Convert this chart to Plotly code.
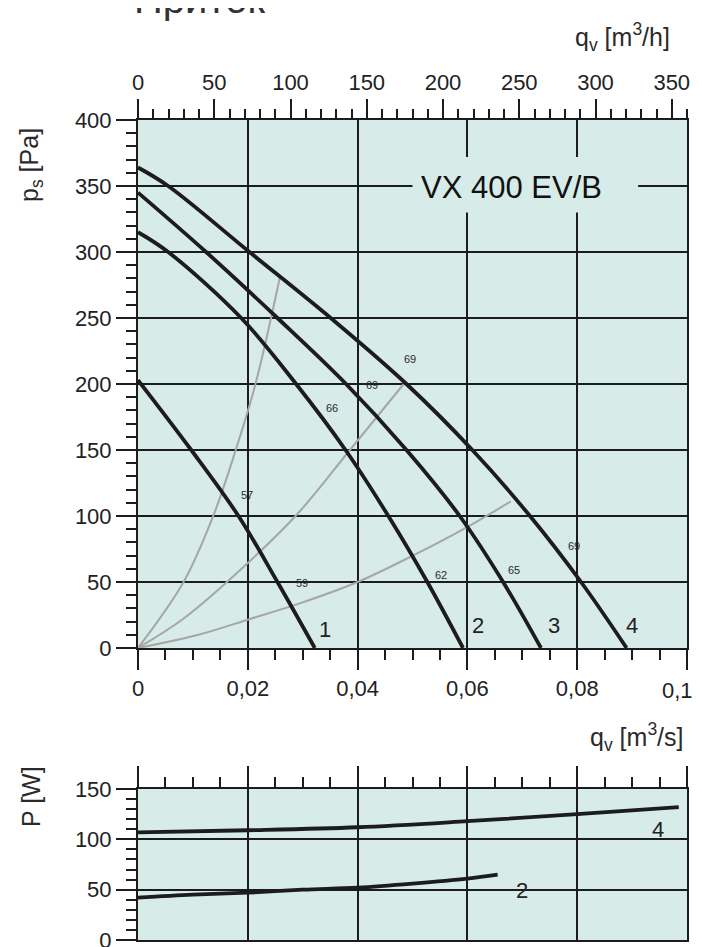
import plotly.graph_objects as go

# ---------------- data ----------------
# fan curves, static pressure p_s [Pa] vs airflow q_v [m3/s]
q1 = [0, 0.0097, 0.0183, 0.0254, 0.0322]
p1 = [203, 150, 100, 50, 0]
q2 = [0, 0.0055, 0.0188, 0.0288, 0.0378, 0.0456, 0.0527, 0.0592]
p2 = [315, 300, 250, 200, 150, 100, 50, 0]
q3 = [0, 0.0124, 0.0254, 0.0379, 0.0489, 0.0586, 0.0665, 0.0734]
p3 = [345, 300, 250, 200, 150, 100, 50, 0]
q4 = [0, 0.0055, 0.0203, 0.0351, 0.0489, 0.0609, 0.0714, 0.0807, 0.089]
p4 = [364, 350, 300, 250, 200, 150, 100, 50, 0]

# system (grey) curves
qa = [0, 0.0083, 0.0137, 0.0178, 0.0214, 0.0259]
pa = [0, 50, 100, 150, 200, 282]
qb = [0, 0.0082, 0.0162, 0.0287, 0.0386, 0.0484]
pb = [0, 22, 50, 100, 150, 200]
qc = [0, 0.011, 0.0204, 0.0296, 0.040, 0.0496, 0.0597, 0.0679]
pc = [0, 10, 22, 34, 50, 69, 91, 111]

# small sound-level labels
snd_text = ["57", "59", "66", "69", "69", "62", "65", "69"]
snd_q = [0.0199, 0.0299, 0.0354, 0.0427, 0.0496, 0.0551, 0.0684, 0.0794]
snd_p = [116, 49, 182, 199, 219, 55, 59, 77]

# curve numbers
num_text = ["1", "2", "3", "4"]
num_q = [0.0341, 0.0620, 0.0757, 0.0900]
num_p = [14, 17, 17, 17]

# power curves P [W]
wq4 = [0, 0.02, 0.04, 0.06, 0.08, 0.0985]
wp4 = [107, 109, 112, 118, 125, 132]
wq2 = [0, 0.01, 0.02, 0.03, 0.04, 0.05, 0.06, 0.0655]
wp2 = [42, 45, 47, 50, 52, 56, 61, 65]
wnum_text = ["4", "2"]
wnum_q = [0.0948, 0.070]
wnum_p = [110, 49]

# ticks
x_ticks = [0, 0.02, 0.04, 0.06, 0.08, 0.1]
x_ticktext = ["0", "0,02", "0,04", "0,06", "0,08", ""]
x_last_label = "0,1"
xh_ticks = [0, 50, 100, 150, 200, 250, 300, 350]
p_ticks = [0, 50, 100, 150, 200, 250, 300, 350, 400]
w_ticks = [0, 50, 100, 150]

# ---------------- styling ----------------
OFF = 8                      # page body margin of the browser
W, H = 702 - OFF, 947 - OFF
BG = "#d7ebe9"
INK = "#1c1c1c"
GREY = "#a6a6a6"
FONT = "Liberation Sans"

def px(xp):                  # page pixel -> paper fraction
    return (xp - OFF) / W

def py(yp):
    return 1 - (yp - OFF) / H

XD = [px(138), px(687)]
YD_MAIN = [py(648), py(120)]
YD_POW = [py(940), py(789)]

fig = go.Figure()

def curve(q, p, color, width, xa="x", ya="y"):
    fig.add_trace(go.Scatter(x=q, y=p, mode="lines", xaxis=xa, yaxis=ya,
                             line=dict(color=color, width=width, shape="spline", smoothing=1.0),
                             hoverinfo="skip", showlegend=False))

for q, p in [(qa, pa), (qb, pb), (qc, pc)]:
    curve(q, p, GREY, 2)
for q, p in [(q1, p1), (q2, p2), (q3, p3), (q4, p4)]:
    curve(q, p, INK, 3.8)
for q, p in [(wq4, wp4), (wq2, wp2)]:
    curve(q, p, INK, 3.8, "x3", "y3")

# invisible trace to activate top m3/h axis
fig.add_trace(go.Scatter(x=[0], y=[0], xaxis="x2", yaxis="y", mode="markers",
                         marker=dict(opacity=0), hoverinfo="skip", showlegend=False))

tickfont = dict(family=FONT, size=22, color="#222")
common = dict(ticks="outside", tickwidth=2, tickcolor=INK, showline=True, linecolor=INK,
              linewidth=2, zeroline=False, tickfont=tickfont, fixedrange=True,
              ticklabeloverflow="allow")

def minor(d, ln):
    return dict(dtick=d, tick0=0, ticks="outside", ticklen=ln, tickwidth=2,
                tickcolor=INK, showgrid=False)

fig.update_layout(
    width=W, height=H, autosize=False,
    margin=dict(l=0, r=0, t=0, b=0),
    paper_bgcolor="white", plot_bgcolor=BG,
    showlegend=False,
    xaxis=dict(domain=XD, anchor="y", range=[0, 0.1], tickvals=x_ticks, ticktext=x_ticktext,
               ticklen=20, minor=minor(0.005, 10),
               showgrid=True, gridcolor=INK, gridwidth=2, mirror=True, automargin=False, **common),
    xaxis2=dict(overlaying="x", anchor="y", side="top", range=[0, 360], tickvals=xh_ticks,
                ticklen=19, minor=minor(10, 9),
                showgrid=False, automargin=False, **common),
    yaxis=dict(domain=YD_MAIN, anchor="x", range=[0, 400], tickvals=p_ticks, ticklen=20,
               minor=minor(10, 10),
               showgrid=True, gridcolor=INK, gridwidth=2, mirror=True, automargin=False, **common),
    xaxis3=dict(domain=XD, anchor="y3", side="top", range=[0, 0.1], tickvals=x_ticks,
                showticklabels=False, ticklen=21, minor=minor(0.005, 10),
                showgrid=True, gridcolor=INK, gridwidth=2, mirror=True, automargin=False, **common),
    yaxis3=dict(domain=YD_POW, anchor="x3", range=[0, 150], tickvals=w_ticks, ticklen=20,
                minor=minor(10, 10),
                showgrid=True, gridcolor=INK, gridwidth=2, mirror=True, automargin=False, **common),
)

# label box that interrupts the grid behind the model name
fig.add_shape(type="rect", xref="x", yref="y", x0=0.0500, x1=0.0911, y0=330, y1=372,
              fillcolor=BG, line=dict(width=0), layer="between")

ann = []
# last bottom tick label, nudged left so it stays inside the page
ann.append(dict(text=x_last_label, x=x_ticks[-1], y=py(690), xref="x", yref="paper", showarrow=False,
                font=tickfont, xanchor="center", yanchor="middle", xshift=-10))
ann.append(dict(text="VX 400 EV/B", x=0.0681, y=348.5, xref="x", yref="y", showarrow=False,
                font=dict(family=FONT, size=31, color="#111"), xanchor="center", yanchor="middle"))
for t, q, p in zip(snd_text, snd_q, snd_p):
    ann.append(dict(text=t, x=q, y=p, xref="x", yref="y", showarrow=False,
                    font=dict(family=FONT, size=11, color="#2a2a2a")))
for t, q, p in zip(num_text, num_q, num_p):
    ann.append(dict(text=t, x=q, y=p, xref="x", yref="y", showarrow=False,
                    font=dict(family=FONT, size=22, color="#222")))
for t, q, p in zip(wnum_text, wnum_q, wnum_p):
    ann.append(dict(text=t, x=q, y=p, xref="x3", yref="y3", showarrow=False,
                    font=dict(family=FONT, size=22, color="#222")))

title_font = dict(family=FONT, size=25, color="#2a2a2a")
ann.append(dict(text="Приток", x=px(199), y=py(23), xref="paper", yref="paper", showarrow=False,
                font=dict(family=FONT, size=40, color="#333"), xanchor="center", yanchor="bottom"))
ann.append(dict(text="q<sub>v</sub> [m<sup>3</sup>/h]", x=px(622), y=py(37), xref="paper", yref="paper",
                showarrow=False, font=title_font, xanchor="center", yanchor="middle"))
ann.append(dict(text="q<sub>v</sub> [m<sup>3</sup>/s]", x=px(637), y=py(737), xref="paper", yref="paper",
                showarrow=False, font=title_font, xanchor="center", yanchor="middle"))
ann.append(dict(text="p<sub>s</sub> [Pa]", x=px(31), y=py(165), xref="paper", yref="paper",
                showarrow=False, font=title_font, textangle=-90, xanchor="center", yanchor="middle"))
ann.append(dict(text="P [W]", x=px(31), y=py(797), xref="paper", yref="paper",
                showarrow=False, font=title_font, textangle=-90, xanchor="center", yanchor="middle"))
fig.update_layout(annotations=ann)

# faint scan mark to the right of the main frame
fig.add_shape(type="line", xref="paper", yref="paper", x0=px(699), x1=px(699), y0=py(245), y1=py(125),
              line=dict(color="#cfcfcf", width=2, dash="dot"))

fig.write_html("out.html")
